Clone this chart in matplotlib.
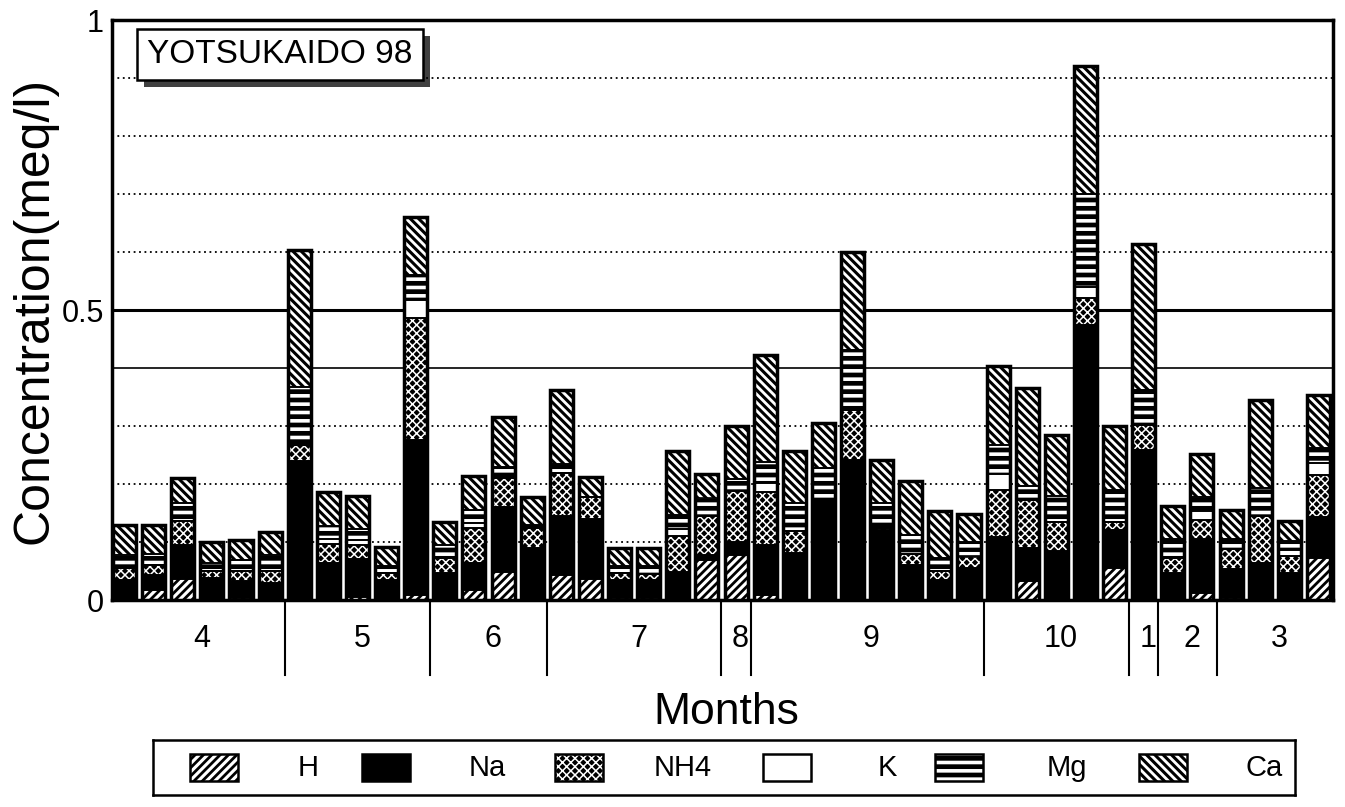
import matplotlib
matplotlib.use('Agg')
import matplotlib.pyplot as plt
import numpy as np
from matplotlib.patches import Rectangle
import matplotlib.transforms as mtransforms
import matplotlib.patheffects as pe

plt.rcParams['font.family'] = ['Liberation Sans', 'DejaVu Sans']
plt.rcParams['hatch.linewidth'] = 2.0

# ---------------- data ----------------
months = ['4', '5', '6', '7', '8', '9', '10', '1', '2', '3']
bars_per_month = [6, 5, 4, 6, 1, 8, 5, 1, 2, 4]

H   = [0.0, 0.017, 0.037, 0.0, 0.003, 0.0, 0.0, 0.0, 0.005, 0.0, 0.008,
       0.0, 0.017, 0.049, 0.0, 0.043, 0.037, 0.003, 0.003, 0.0, 0.069,
       0.078, 0.008, 0.0, 0.0, 0.0, 0.0, 0.0, 0.0, 0.0, 0.0,
       0.033, 0.0, 0.0, 0.055, 0.0, 0.0, 0.012, 0.003, 0.0, 0.0, 0.072]
Na  = [0.035, 0.026, 0.058, 0.038, 0.029, 0.030, 0.240, 0.063, 0.065, 0.035, 0.268,
       0.046, 0.046, 0.112, 0.089, 0.101, 0.103, 0.032, 0.032, 0.049, 0.009,
       0.022, 0.087, 0.081, 0.170, 0.241, 0.120, 0.060, 0.035, 0.055, 0.109,
       0.057, 0.084, 0.474, 0.065, 0.258, 0.046, 0.094, 0.050, 0.063, 0.046, 0.071]
NH4 = [0.020, 0.018, 0.042, 0.012, 0.018, 0.020, 0.028, 0.034, 0.025, 0.012, 0.210,
       0.026, 0.062, 0.050, 0.035, 0.075, 0.038, 0.012, 0.010, 0.062, 0.066,
       0.088, 0.092, 0.038, 0.0, 0.087, 0.005, 0.020, 0.015, 0.020, 0.080,
       0.082, 0.050, 0.046, 0.015, 0.044, 0.027, 0.032, 0.035, 0.081, 0.030, 0.073]
K   = [0.0, 0.0, 0.0, 0.0, 0.0, 0.0, 0.0, 0.008, 0.008, 0.0, 0.032,
       0.0, 0.008, 0.0, 0.0, 0.0, 0.0, 0.0, 0.0, 0.012, 0.0,
       0.0, 0.014, 0.0, 0.0, 0.0, 0.0, 0.0, 0.0, 0.010, 0.028,
       0.0, 0.0, 0.020, 0.0, 0.0, 0.0, 0.015, 0.0, 0.0, 0.010, 0.020]
Mg  = [0.023, 0.018, 0.030, 0.013, 0.019, 0.027, 0.100, 0.022, 0.020, 0.012, 0.042,
       0.022, 0.022, 0.018, 0.005, 0.016, 0.0, 0.012, 0.013, 0.024, 0.031,
       0.020, 0.037, 0.048, 0.057, 0.103, 0.042, 0.032, 0.022, 0.015, 0.050,
       0.025, 0.046, 0.160, 0.055, 0.060, 0.033, 0.025, 0.018, 0.049, 0.015, 0.026]
Ca  = [0.051, 0.050, 0.043, 0.037, 0.034, 0.041, 0.235, 0.060, 0.057, 0.033, 0.100,
       0.040, 0.059, 0.087, 0.049, 0.127, 0.034, 0.031, 0.032, 0.110, 0.042,
       0.092, 0.184, 0.090, 0.079, 0.169, 0.074, 0.094, 0.081, 0.049, 0.136,
       0.168, 0.105, 0.220, 0.110, 0.252, 0.056, 0.073, 0.050, 0.151, 0.035, 0.091]

series_names = ['H', 'Na', 'NH4', 'K', 'Mg', 'Ca']
series_vals = [H, Na, NH4, K, Mg, Ca]
# (face colour, hatch colour, hatch, hatch linewidth)
styles = {
    'H':   ('white', 'black', '////', 2.0),
    'Na':  ('black', 'black', None, 1.0),
    'NH4': ('black', 'white', 'xxxx', 1.1),
    'K':   ('white', 'black', None, 1.0),
    'Mg':  ('black', 'white', '--', 2.6),
    'Ca':  ('white', 'black', '\\\\\\\\', 2.2),
}


def set_hlw(patch, lw):
    try:
        patch.set_hatch_linewidth(lw)
    except Exception:
        pass


# ---------------- figure ----------------
W, Hpx = 1345, 807
fig = plt.figure(figsize=(W / 100, Hpx / 100), dpi=100)
ax = fig.add_axes([112 / W, 1 - 600 / Hpx, (1333 - 112) / W, 580 / Hpx])

n = len(Ca)
x = np.arange(n)
bw = 0.79
bottom = np.zeros(n)
for name, vals in zip(series_names, series_vals):
    vals = np.array(vals)
    face, hcol, hatch, hlw = styles[name]
    bars = ax.bar(x, vals, bottom=bottom, width=bw, color=face,
                  edgecolor=hcol, linewidth=0, hatch=hatch, zorder=3)
    for p in bars:
        set_hlw(p, hlw)
    ax.bar(x, vals, bottom=bottom, width=bw, fill=False,
           edgecolor='black', linewidth=1.2, zorder=4)
    bottom = bottom + vals
ax.bar(x, bottom, width=bw, fill=False, edgecolor='black', linewidth=2.5, zorder=5)

ax.set_xlim(-0.43, n - 0.5)
ax.set_ylim(0, 1)

# grid
for g in [0.1, 0.2, 0.3, 0.6, 0.7, 0.8, 0.9]:
    ax.axhline(g, color='black', linestyle=(0, (1, 2)), linewidth=1.3, zorder=1)
ax.axhline(0.4, color='black', linestyle='-', linewidth=1.2, zorder=1)
ax.axhline(0.5, color='black', linestyle='-', linewidth=2.2, zorder=1)

for s in ax.spines.values():
    s.set_linewidth(2.5)
ax.set_xticks([])
ax.set_yticks([0, 0.5, 1])
ax.set_yticklabels(['0', '0.5', '1'], fontsize=22)
ax.tick_params(axis='y', length=0, pad=6)

# month dividers and labels
trans = mtransforms.blended_transform_factory(ax.transData, ax.transAxes)
edges = np.cumsum(bars_per_month)
starts = np.concatenate([[0], edges[:-1]])
for e in edges[:-1]:
    ax.plot([e - 0.5, e - 0.5], [0, -0.13], color='black', linewidth=1.5,
            transform=trans, clip_on=False)
for m, s0, e in zip(months, starts, edges):
    ax.text((s0 + e - 1) / 2 + 0.15, -0.068, m, transform=trans, ha='center',
            va='center', fontsize=22)

fig.text(726 / W, 1 - 712 / Hpx, 'Months', ha='center', va='center', fontsize=32)
fig.text(35 / W, 1 - 310 / Hpx, 'Concentration(meq/l)', rotation=90,
         ha='center', va='center', fontsize=36)

# title box
t = ax.text(0.029, 0.94, 'YOTSUKAIDO 98', transform=ax.transAxes,
            ha='left', va='center', fontsize=24, zorder=10,
            bbox=dict(boxstyle='square,pad=0.3', facecolor='white',
                      edgecolor='black', linewidth=1.8))
t.get_bbox_patch().set_path_effects([
    pe.SimplePatchShadow(offset=(5, -5), shadow_rgbFace='black', alpha=0.75),
    pe.Normal()])

# legend
lax = fig.add_axes([153 / W, 1 - 795 / Hpx, (1295 - 153) / W, 55 / Hpx])
lax.set_xlim(153, 1295)
lax.set_ylim(795, 740)
lax.set_xticks([])
lax.set_yticks([])
for s in lax.spines.values():
    s.set_linewidth(1.8)
sw_x = [190, 362, 555, 763, 935, 1139]
lab_x = [308, 487, 683, 887, 1067, 1264]
for name, sx, lx in zip(series_names, sw_x, lab_x):
    face, hcol, hatch, hlw = styles[name]
    p = Rectangle((sx, 754), 48, 27, facecolor=face, edgecolor=hcol,
                  linewidth=0, hatch=hatch)
    set_hlw(p, hlw)
    lax.add_patch(p)
    lax.add_patch(Rectangle((sx, 754), 48, 27, fill=False, edgecolor='black',
                            linewidth=1.8))
    lax.text(lx, 768, name, ha='center', va='center', fontsize=21)

fig.savefig('out.png', dpi=100)
